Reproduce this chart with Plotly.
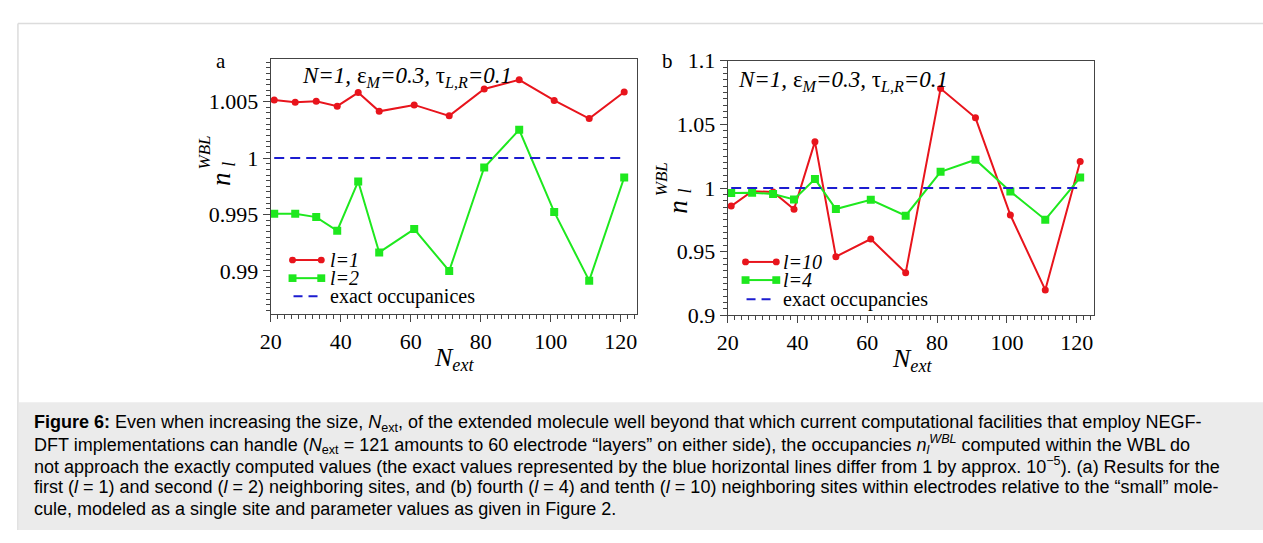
import plotly.graph_objects as go

W, H = 1263, 543

# ---------------- data ----------------
n_ext = [21, 27, 33, 39, 45, 51, 61, 71, 81, 91, 101, 111, 121]

a_l1 = [1.00514, 1.00494, 1.00503, 1.00460, 1.00580, 1.00414, 1.00471,
        1.00374, 1.00612, 1.00693, 1.00511, 1.00350, 1.00586]
a_l2 = [0.99506, 0.99506, 0.99477, 0.99356, 0.99793, 0.99164, 0.99371,
        0.99000, 0.99917, 1.00250, 0.99523, 0.98914, 0.99828]
a_exact = [1.0] * len(n_ext)

b_l10 = [0.9858, 0.9975, 0.9968, 0.9833, 1.0364, 0.9461, 0.9599,
         0.9334, 1.0781, 1.0551, 0.9788, 0.9200, 1.0209]
b_l4 = [0.9960, 0.9963, 0.9953, 0.9910, 1.0070, 0.9835, 0.9908,
        0.9783, 1.0127, 1.0222, 0.9973, 0.9751, 1.0082]
b_exact = [1.0] * len(n_ext)

x_ticks = [20, 40, 60, 80, 100, 120]
a_yticks = [0.99, 0.995, 1.0, 1.005]
a_yticklabels = ["0.99", "0.995", "1", "1.005"]
b_yticks = [0.9, 0.95, 1.0, 1.05, 1.1]
b_yticklabels = ["0.9", "0.95", "1", "1.05", "1.1"]

leg_a = ["<i>l=1</i>", "<i>l=2</i>", "exact occupanices"]
leg_b = ["<i>l=10</i>", "<i>l=4</i>", "exact occupancies"]

caption_lines = [
    "<b>Figure 6:</b> Even when increasing the size, <i>N</i><sub>ext</sub>, of the extended molecule well beyond that which current computational facilities that employ NEGF-",
    "DFT implementations can handle (<i>N</i><sub>ext</sub> = 121 amounts to 60 electrode “layers” on either side), the occupancies <i>n</i><sub><i>l</i></sub><sup><i>WBL</i></sup> computed within the WBL do",
    "not approach the exactly computed values (the exact values represented by the blue horizontal lines differ from 1 by approx. 10<sup>−5</sup>). (a) Results for the",
    "first (<i>l</i> = 1) and second (<i>l</i> = 2) neighboring sites, and (b) fourth (<i>l</i> = 4) and tenth (<i>l</i> = 10) neighboring sites within electrodes relative to the “small” mole-",
    "cule, modeled as a single site and parameter values as given in Figure 2.",
]

# ---------------- style ----------------
RED = "#e8141c"
GREEN = "#1ee81e"
BLUE = "#1c1cd0"
AXC = "#444444"
SERIF = "Liberation Serif"
SANS = "Liberation Sans"


def px(x):
    return x / W


def py(y):
    return 1 - y / H


fig = go.Figure()

fig.add_trace(go.Scatter(x=n_ext, y=a_l1, mode="lines+markers", xaxis="x", yaxis="y",
                         line=dict(color=RED, width=2), marker=dict(symbol="circle", size=7, color=RED)))
fig.add_trace(go.Scatter(x=n_ext, y=a_l2, mode="lines+markers", xaxis="x", yaxis="y",
                         line=dict(color=GREEN, width=2), marker=dict(symbol="square", size=8, color=GREEN)))
fig.add_trace(go.Scatter(x=n_ext, y=a_exact, mode="lines", xaxis="x", yaxis="y",
                         line=dict(color=BLUE, width=2, dash="10px,6px")))

fig.add_trace(go.Scatter(x=n_ext, y=b_l10, mode="lines+markers", xaxis="x2", yaxis="y2",
                         line=dict(color=RED, width=2), marker=dict(symbol="circle", size=7, color=RED)))
fig.add_trace(go.Scatter(x=n_ext, y=b_l4, mode="lines+markers", xaxis="x2", yaxis="y2",
                         line=dict(color=GREEN, width=2), marker=dict(symbol="square", size=8, color=GREEN)))
fig.add_trace(go.Scatter(x=n_ext, y=b_exact, mode="lines", xaxis="x2", yaxis="y2",
                         line=dict(color=BLUE, width=2, dash="10px,6px")))

tickfont = dict(family=SERIF, size=22, color="black")

def xaxis(domain, rng, anchor):
    return dict(domain=domain, range=rng, anchor=anchor, tickmode="array", tickvals=x_ticks,
                ticktext=[str(v) for v in x_ticks], ticks="outside", ticklen=7, tickwidth=1,
                tickcolor=AXC, showline=True, linecolor=AXC, linewidth=1, mirror=True,
                showgrid=False, zeroline=False, tickfont=tickfont,
                minor=dict(dtick=2, tick0=20, ticks="outside", ticklen=4, tickcolor=AXC, showgrid=False))

def yaxis(domain, rng, anchor, vals, labels, mdt):
    return dict(domain=domain, range=rng, anchor=anchor, tickmode="array", tickvals=vals,
                ticktext=labels, ticks="outside", ticklen=7, tickwidth=1,
                tickcolor=AXC, showline=True, linecolor=AXC, linewidth=1, mirror=True,
                showgrid=False, zeroline=False, tickfont=tickfont,
                minor=dict(dtick=mdt, tick0=1.0, ticks="outside", ticklen=4, tickcolor=AXC, showgrid=False))

fig.update_layout(
    width=W, height=H, autosize=False,
    margin=dict(l=0, r=0, t=0, b=0),
    paper_bgcolor="white", plot_bgcolor="white",
    showlegend=False,
    xaxis=xaxis([px(262), px(632)], [20, 124.8], "y"),
    yaxis=yaxis([py(317), py(49)], [0.98615, 1.0088], "x", a_yticks, a_yticklabels, 0.0005),
    xaxis2=xaxis([px(723), px(1093)], [20, 125.1], "y2"),
    yaxis2=yaxis([py(318), py(51)], [0.9, 1.1], "x2", b_yticks, b_yticklabels, 0.005),
)

shapes = []
annotations = []

# frame lines and caption box
shapes.append(dict(type="line", xref="paper", yref="paper", x0=px(7), x1=1, y0=py(12), y1=py(12),
                   line=dict(color="#dcdcdc", width=1.5), layer="below"))
shapes.append(dict(type="line", xref="paper", yref="paper", x0=px(7), x1=px(7), y0=py(12), y1=0,
                   line=dict(color="#dcdcdc", width=1.5), layer="below"))
shapes.append(dict(type="rect", xref="paper", yref="paper", x0=px(8), x1=1, y0=0, y1=py(409),
                   fillcolor="#ebebeb", line=dict(width=0), layer="below"))


def legend(x0, x1, xt, ys, labels):
    for k, (col, kind) in enumerate([(RED, "circle"), (GREEN, "square")]):
        y = ys[k]
        shapes.append(dict(type="line", xref="paper", yref="paper", x0=px(x0), x1=px(x1),
                           y0=py(y), y1=py(y), line=dict(color=col, width=2)))
        r = 3.5 if kind == "circle" else 4
        for xc in (x0, x1):
            shapes.append(dict(type="circle" if kind == "circle" else "rect", xref="paper", yref="paper",
                               x0=px(xc - r), x1=px(xc + r), y0=py(y + r), y1=py(y - r),
                               fillcolor=col, line=dict(width=0)))
    shapes.append(dict(type="line", xref="paper", yref="paper", x0=px(x0 + 1), x1=px(x1 - 2),
                       y0=py(ys[2]), y1=py(ys[2]), line=dict(color=BLUE, width=2, dash="9px,6px")))
    for y, lab in zip(ys, labels):
        annotations.append(dict(xref="paper", yref="paper", x=px(xt), y=py(y), text=lab,
                                showarrow=False, xanchor="left", yanchor="middle",
                                font=dict(family=SERIF, size=20, color="black")))


legend(284, 313, 320, [260, 279, 298], leg_a)
legend(741, 772, 777, [262, 281, 301], leg_b)

def txt(x, y, text, size, xanchor="center", yanchor="middle", angle=0, family=SERIF):
    annotations.append(dict(xref="paper", yref="paper", x=px(x), y=py(y), text=text,
                            showarrow=False, xanchor=xanchor, yanchor=yanchor, textangle=angle,
                            font=dict(family=family, size=size, color="black")))

# panel labels
txt(212, 51, "a", 21)
txt(662, 51, "b", 21)

# parameter annotations
param = "<i>N=1, </i>ε<sub><i>M</i></sub><i>=0.3, </i>τ<sub><i>L,R</i></sub><i>=0.1</i>"
txt(292, 68, param, 23, xanchor="left")
txt(731, 72, param, 23, xanchor="left")

# y titles
for (nx, ny, lx, ly, wx, wy) in [(212, 175, 220, 160, 195, 147), (672, 204, 680, 188, 657, 175)]:
    txt(nx, ny, "<i>n</i>", 27, angle=-90)
    txt(lx, ly, "<i>l</i>", 18, angle=-90)
    txt(wx, wy, "<i>WBL</i>", 17, angle=-90)

# x titles
txt(447, 364, "<i>N</i><sub><i>ext</i></sub>", 26)
txt(909, 365, "<i>N</i><sub><i>ext</i></sub>", 26)

# caption
for i, line in enumerate(caption_lines):
    txt(21, 431 + 22.4 * i, line, 18, xanchor="left", family=SANS)

fig.update_layout(shapes=shapes, annotations=annotations)

fig.write_html("out.html")
